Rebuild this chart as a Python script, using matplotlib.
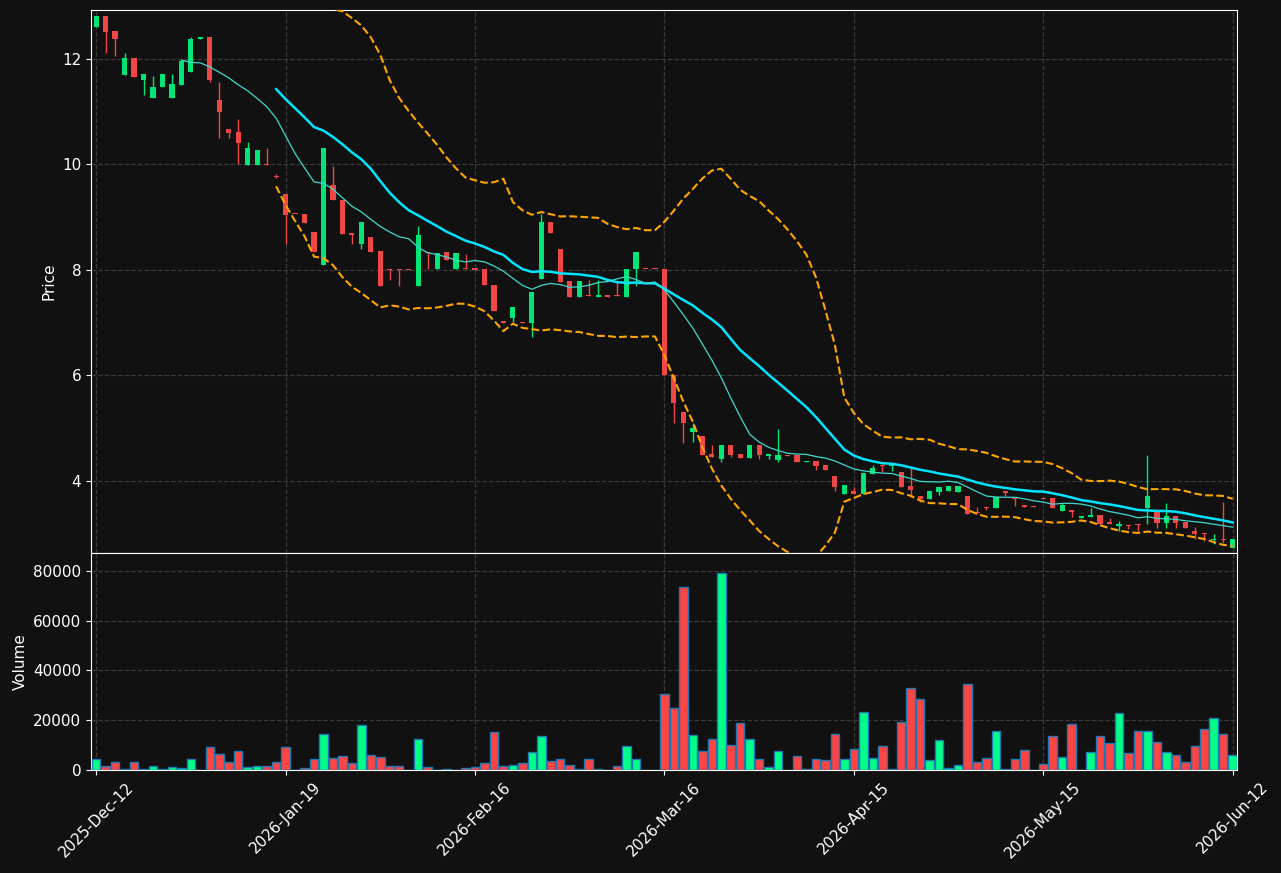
import matplotlib
matplotlib.use("Agg")
import matplotlib.pyplot as plt
import numpy as np
import pandas as pd

# daily candles (121 sessions)
opens = [12.61, 12.815, 12.531, 11.703, 12.019, 11.602, 11.267, 11.457, 11.267, 11.513,
         11.76, 12.367, 12.417, 11.223, 10.673, 10.616, 9.99, 9.99, 10.0, 9.78,
         9.44, 9.06, 9.055, 8.72, 8.095, 9.611, 9.327, 8.695, 8.493, 8.626,
         8.36, 8.013, 7.995, 8.0, 7.703, 8.33, 8.019, 8.33, 8.019, 8.03,
         8.03, 8.019, 7.716, 7.027, 7.096, 7.02, 7.002, 7.836, 8.91, 8.398,
         7.792, 7.495, 7.52, 7.495, 7.525, 7.51, 7.495, 8.013, 8.02, 8.02,
         8.02, 6.0, 5.302, 4.935, 4.853, 4.51, 4.423, 4.682, 4.51, 4.442,
         4.682, 4.48, 4.404, 4.49, 4.486, 4.35, 4.379, 4.303, 4.095, 3.76,
         3.81, 3.754, 4.133, 4.297, 4.28, 4.164, 3.905, 3.709, 3.659, 3.791,
         3.81, 3.791, 3.716, 3.42, 3.507, 3.494, 3.804, 3.678, 3.539, 3.526,
         3.67, 3.678, 3.437, 3.444, 3.305, 3.324, 3.355, 3.223, 3.153, 3.166,
         3.178, 3.494, 3.412, 3.21, 3.336, 3.223, 3.052, 3.008, 2.875, 2.894,
         2.724]
closes = [12.815, 12.518, 12.367, 12.019, 11.665, 11.716, 11.469, 11.716, 11.526, 11.962,
          12.379, 12.417, 11.602, 11.002, 10.603, 10.414, 10.313, 10.275, 9.99, 9.76,
          9.04, 9.05, 8.897, 8.347, 10.307, 9.327, 8.683, 8.663, 8.91, 8.347,
          7.703, 7.99, 7.99, 7.99, 8.664, 8.32, 8.322, 8.19, 8.322, 8.01,
          7.99, 7.716, 7.223, 7.0, 7.299, 7.0, 7.583, 8.91, 8.708, 7.779,
          7.495, 7.792, 7.51, 7.525, 7.495, 7.5, 8.019, 8.341, 8.01, 8.01,
          6.0, 5.485, 5.106, 4.998, 4.5, 4.461, 4.682, 4.5, 4.442, 4.682,
          4.5, 4.51, 4.486, 4.48, 4.36, 4.38, 4.284, 4.208, 3.886, 3.924,
          3.754, 4.152, 4.247, 4.28, 4.297, 3.886, 3.83, 3.659, 3.81, 3.886,
          3.905, 3.905, 3.374, 3.40, 3.48, 3.703, 3.779, 3.665, 3.514, 3.514,
          3.66, 3.494, 3.539, 3.412, 3.336, 3.355, 3.185, 3.185, 3.185, 3.153,
          3.166, 3.716, 3.21, 3.336, 3.21, 3.115, 3.001, 2.995, 2.894, 2.88,
          2.894]
highs = [12.815, 12.815, 12.531, 12.107, 12.019, 11.716, 11.678, 11.716, 11.716, 11.962,
         12.417, 12.417, 12.417, 11.558, 10.673, 10.862, 10.427, 10.275, 10.313, 9.81,
         9.44, 9.06, 9.055, 8.72, 10.307, 9.96, 9.327, 8.695, 8.91, 8.626,
         8.36, 8.013, 7.995, 8.0, 8.834, 8.33, 8.322, 8.33, 8.322, 8.297,
         8.03, 8.019, 7.716, 7.027, 7.299, 7.02, 7.583, 9.055, 8.91, 8.398,
         7.792, 7.792, 7.81, 7.81, 7.525, 7.78, 8.019, 8.341, 8.02, 8.02,
         8.02, 6.0, 5.302, 5.106, 4.853, 4.682, 4.682, 4.682, 4.51, 4.682,
         4.682, 4.51, 4.98, 4.49, 4.486, 4.38, 4.379, 4.303, 4.095, 3.924,
         3.893, 4.152, 4.3, 4.297, 4.297, 4.164, 4.247, 3.709, 3.81, 3.886,
         3.905, 3.905, 3.716, 3.50, 3.507, 3.703, 3.804, 3.678, 3.539, 3.526,
         3.67, 3.678, 3.577, 3.444, 3.336, 3.488, 3.355, 3.292, 3.235, 3.166,
         3.178, 4.486, 3.412, 3.577, 3.336, 3.223, 3.128, 3.008, 3.001, 3.596,
         2.894]
lows = [12.61, 12.107, 12.063, 11.703, 11.665, 11.311, 11.267, 11.457, 11.267, 11.513,
        11.76, 12.367, 11.558, 10.509, 10.509, 10.003, 9.99, 9.99, 9.99, 9.74,
        8.487, 9.05, 8.897, 8.347, 8.095, 9.327, 8.683, 8.499, 8.392, 8.347,
        7.703, 7.804, 7.703, 7.99, 7.703, 8.013, 8.019, 8.19, 8.019, 8.01,
        7.99, 7.716, 7.223, 7.0, 7.02, 7.0, 6.736, 7.836, 8.708, 7.779,
        7.495, 7.495, 7.51, 7.495, 7.495, 7.5, 7.495, 7.703, 8.01, 8.01,
        6.0, 5.106, 4.714, 4.746, 4.5, 4.461, 4.354, 4.45, 4.442, 4.442,
        4.41, 4.41, 4.354, 4.48, 4.36, 4.35, 4.208, 4.208, 3.804, 3.76,
        3.754, 3.754, 4.133, 4.171, 4.196, 3.886, 3.703, 3.595, 3.659, 3.741,
        3.81, 3.791, 3.374, 3.40, 3.45, 3.494, 3.716, 3.532, 3.514, 3.514,
        3.66, 3.494, 3.437, 3.311, 3.305, 3.324, 3.185, 3.185, 3.052, 3.096,
        3.058, 3.178, 3.103, 3.103, 3.103, 3.115, 2.894, 2.869, 2.8, 2.818,
        2.724]
volumes = [4300, 1470, 3080, 300, 3080, 300, 1470, 300, 1070, 670,
           4290, 0, 9110, 6300, 3350, 7500, 1070, 1470, 1470, 3080,
           9110, 0, 670, 4290, 14600, 4690, 5490, 2680, 17960, 5900,
           5090, 1470, 1470, 0, 12330, 1070, 0, 270, 0, 670,
           1070, 2680, 15140, 1470, 1880, 2680, 7100, 13530, 3480, 4290,
           1880, 270, 4290, 270, 0, 1470, 9510, 4290, 0, 0,
           30420, 24790, 73440, 13940, 7500, 12330, 79060, 9920, 18760, 12330,
           4290, 1070, 7500, 0, 5490, 270, 4290, 3890, 14340, 4290,
           8310, 23190, 4690, 9510, 270, 19160, 32830, 28410, 3890, 11930,
           670, 1880, 34440, 3080, 4690, 15540, 270, 4290, 7910, 0,
           2280, 13530, 5090, 18360, 0, 7100, 13530, 10720, 22780, 6700,
           15540, 15540, 11120, 7100, 5900, 3080, 9510, 16350, 20770, 14340,
           5900]

tick_every = 20
tick_labels = ["2025-Dec-12", "2026-Jan-19", "2026-Feb-16", "2026-Mar-16",
               "2026-Apr-15", "2026-May-15", "2026-Jun-12"]

BG = "#111111"
UP = "#00e676"
DOWN = "#f04646"
VOL_UP = "#00ff88"
VOL_DOWN = "#ff4444"


def main():
    df = pd.DataFrame({"open": opens, "high": highs, "low": lows,
                       "close": closes, "volume": volumes})
    x = np.arange(len(df))
    up = df["close"] >= df["open"]

    ma10 = df["close"].rolling(10).mean()
    ma20 = df["close"].rolling(20).mean()
    sd20 = df["close"].rolling(20).std()
    bb_up = ma20 + 2 * sd20
    bb_lo = ma20 - 2 * sd20

    fig = plt.figure(figsize=(12.81, 8.73), dpi=100, facecolor=BG)
    ax = fig.add_axes([0.0710, 0.3666, 0.8946, 0.6222])
    axv = fig.add_axes([0.0710, 0.1180, 0.8946, 0.2486], sharex=ax)

    for a in (ax, axv):
        a.set_facecolor(BG)
        for s in a.spines.values():
            s.set_color("white")
        a.tick_params(colors="white", labelsize=11)
        a.grid(True, color="#3a3a3a", linestyle="--", linewidth=0.9)
        a.set_axisbelow(True)

    # candles
    body_lo = np.minimum(df["open"], df["close"])
    body_h = np.maximum((df["close"] - df["open"]).abs(), 0.02)
    colors = np.where(up, UP, DOWN)
    ax.vlines(x, df["low"], df["high"], colors=colors, linewidth=1, zorder=2)
    ax.bar(x, body_h, bottom=body_lo, width=0.55, color=colors, linewidth=0, zorder=3)

    ax.plot(x, ma20, color="#00e5ff", linewidth=1.8, zorder=4)
    ax.plot(x, ma10, color="#40d8cc", linewidth=0.9, zorder=4)
    ax.plot(x, bb_up, color="#ffa500", linestyle="--", linewidth=1.5, zorder=4)
    ax.plot(x, bb_lo, color="#ffa500", linestyle="--", linewidth=1.5, zorder=4)

    ax.set_ylim(2.635, 12.93)
    ax.set_yticks([4, 6, 8, 10, 12])
    ax.set_ylabel("Price", color="white", fontsize=11)
    ax.tick_params(axis="x", labelbottom=False)

    # volume
    vcolors = np.where(up, VOL_UP, VOL_DOWN)
    axv.bar(x, df["volume"], width=0.9, color=vcolors, edgecolor="#1f77b4",
            linewidth=1, zorder=3)
    axv.set_ylim(0, 87200)
    axv.set_yticks([0, 20000, 40000, 60000, 80000])
    axv.set_ylabel("Volume", color="white", fontsize=11)

    ticks = np.arange(0, len(df), tick_every)
    axv.set_xticks(ticks)
    axv.set_xticklabels(tick_labels, rotation=45, ha="center")
    axv.set_xlim(-0.55, len(df) - 0.55)

    fig.savefig("out.png", dpi=100, facecolor=BG)


if __name__ == "__main__":
    main()
